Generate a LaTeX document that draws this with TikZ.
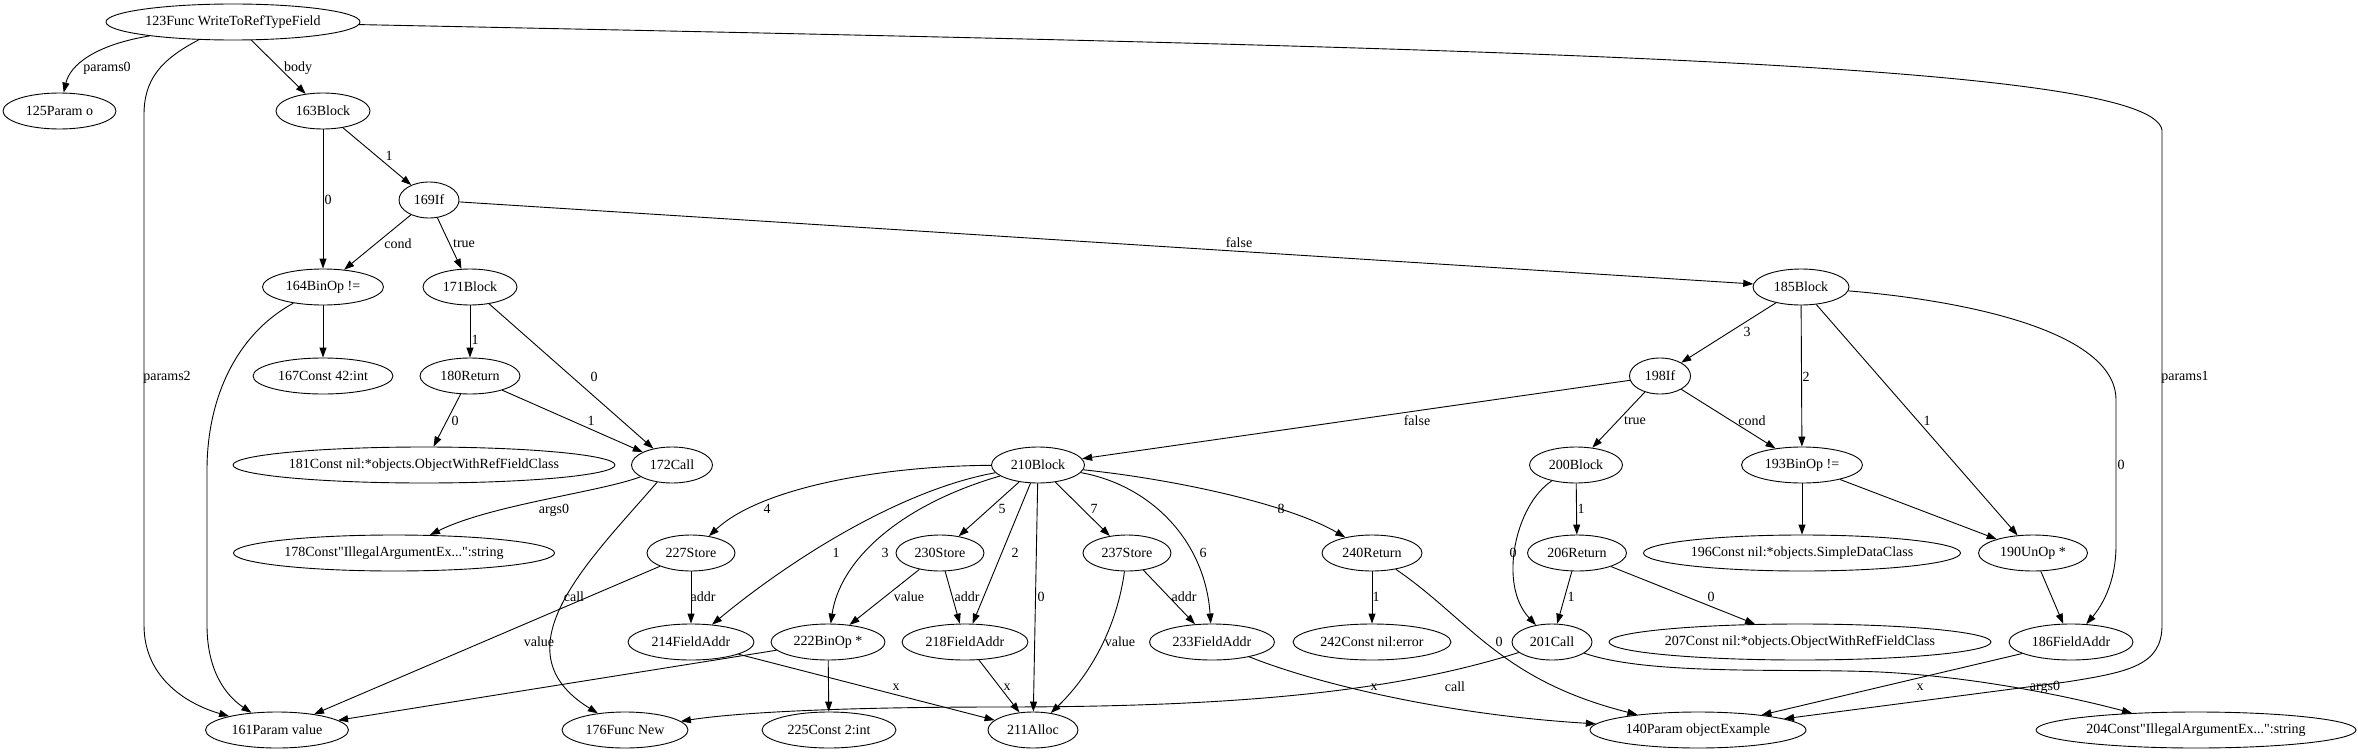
\documentclass[tikz,border=0pt]{standalone}
\usepackage{fontspec}
\setmainfont{Liberation Serif}[Ligatures=TeXOff]
\usetikzlibrary{arrows, arrows.meta}
\usetikzlibrary{shapes.geometric}

\begin{document}
\begin{tikzpicture}[x=1pt, y=-1pt, line width=0.9pt,
    font=\fontsize{14}{16}\selectfont,
    ast/.style={ellipse, draw, inner sep=0pt, minimum height=36pt},
    lbl/.style={inner sep=0pt},
    >={Triangle[length=10pt, width=7pt]}]
    \useasboundingbox (0,0) rectangle (2358,752);

    \node[ast, minimum width=254pt] (123) at (233,22) {123Func WriteToRefTypeField};
    \node[ast, minimum width=113pt] (125) at (59.5,111) {125Param o};
    \node[ast, minimum width=94pt] (163) at (323,111) {163Block};
    \node[ast, minimum width=60pt] (169) at (429,200) {169If};
    \node[ast, minimum width=121pt] (164) at (323,287) {164BinOp !=};
    \node[ast, minimum width=94pt] (171) at (470,287) {171Block};
    \node[ast, minimum width=96pt] (185) at (1801,287) {185Block};
    \node[ast, minimum width=140pt] (167) at (323,376) {167Const 42:int};
    \node[ast, minimum width=100pt] (180) at (470,376) {180Return};
    \node[ast, minimum width=61pt] (198) at (1660,376) {198If};
    \node[ast, minimum width=380pt] (181) at (424,465) {181Const nil:*objects.ObjectWithRefFieldClass};
    \node[ast, minimum width=81pt] (172) at (672,465) {172Call};
    \node[ast, minimum width=93pt] (210) at (1038,465) {210Block};
    \node[ast, minimum width=93pt] (200) at (1576,465) {200Block};
    \node[ast, minimum width=121pt] (193) at (1802,465) {193BinOp !=};
    \node[ast, minimum width=321pt] (178) at (394,553) {178Const"IllegalArgumentEx...":string};
    \node[ast, minimum width=88pt] (227) at (691,553) {227Store};
    \node[ast, minimum width=88pt] (230) at (940,553) {230Store};
    \node[ast, minimum width=88pt] (237) at (1127,553) {237Store};
    \node[ast, minimum width=100pt] (240) at (1372,553) {240Return};
    \node[ast, minimum width=99pt] (206) at (1577,553) {206Return};
    \node[ast, minimum width=317pt] (196) at (1802,553) {196Const nil:*objects.SimpleDataClass};
    \node[ast, minimum width=109pt] (190) at (2033,553) {190UnOp *};
    \node[ast, minimum width=126pt] (214) at (691,642) {214FieldAddr};
    \node[ast, minimum width=114pt] (222) at (828,642) {222BinOp *};
    \node[ast, minimum width=126pt] (218) at (965,642) {218FieldAddr};
    \node[ast, minimum width=125pt] (233) at (1212,642) {233FieldAddr};
    \node[ast, minimum width=158pt] (242) at (1372,642) {242Const nil:error};
    \node[ast, minimum width=80pt] (201) at (1552,642) {201Call};
    \node[ast, minimum width=379pt] (207) at (1800,642) {207Const nil:*objects.ObjectWithRefFieldClass};
    \node[ast, minimum width=124pt] (186) at (2071,642) {186FieldAddr};
    \node[ast, minimum width=143pt] (161) at (277,730) {161Param value};
    \node[ast, minimum width=126pt] (176) at (625,730) {176Func New};
    \node[ast, minimum width=134pt] (225) at (829,730) {225Const 2:int};
    \node[ast, minimum width=90pt] (211) at (1033,730) {211Alloc};
    \node[ast, minimum width=216pt] (140) at (1698,730) {140Param objectExample};
    \node[ast, minimum width=320pt] (204) at (2196,730) {204Const"IllegalArgumentEx...":string};

    \draw[->] (123) .. controls (95,45) and (70,65) .. (125) node[lbl] at (107,68) {params0};
    \draw[->] (123) -- (163) node[lbl] at (298,68) {body};
    \draw[->] (123) .. controls (160,60) and (144,80) .. (144,115) -- (144,625)
        .. controls (144,680) and (190,705) .. (161) node[lbl] at (167,377) {params2};
    \draw[->] (123) .. controls (1500,48) and (2150,62) .. (2162,130) -- (2162,625)
        .. controls (2162,665) and (2130,672) .. (2066,682) -- (140) node[lbl] at (2185,377) {params1};
    \draw[->] (163) -- (164) node[lbl] at (328,200) {0};
    \draw[->] (163) -- (169) node[lbl] at (389,156) {1};
    \draw[->] (169) -- (164) node[lbl] at (398,244) {cond};
    \draw[->] (169) -- (171) node[lbl] at (464,244) {true};
    \draw[->] (169) -- (185) node[lbl] at (1239,243) {false};
    \draw[->] (164) -- (167);
    \draw[->] (164) .. controls (235,335) and (207,400) .. (207,470) -- (207,625)
        .. controls (207,670) and (225,695) .. (161);
    \draw[->] (171) -- (180) node[lbl] at (475,340) {1};
    \draw[->] (171) -- (172) node[lbl] at (594,377) {0};
    \draw[->] (180) -- (181) node[lbl] at (455,421) {0};
    \draw[->] (180) -- (172) node[lbl] at (591,421) {1};
    \draw[->] (172) .. controls (600,492) and (490,505) .. (178) node[lbl] at (554,510) {args0};
    \draw[->] (172) .. controls (590,560) and (495,650) .. (176) node[lbl] at (574,597) {call};

    % second block
    \draw[->] (185) -- (198) node[lbl] at (1747,332) {3};
    \draw[->] (185) -- (193) node[lbl] at (1806,377) {2};
    \draw[->] (185) -- (190) node[lbl] at (1927,421) {1};
    \draw[->] (185) .. controls (1960,300) and (2116,330) .. (2116,400) -- (2116,545)
        .. controls (2116,585) and (2100,608) .. (186) node[lbl] at (2121,465) {0};
    \draw[->] (198) -- (210) node[lbl] at (1417,421) {false};
    \draw[->] (198) -- (200) node[lbl] at (1635,421) {true};
    \draw[->] (198) -- (193) node[lbl] at (1752,421) {cond};
    \draw[->] (200) -- (206) node[lbl] at (1581,509) {1};
    \draw[->] (200) .. controls (1515,505) and (1498,585) .. (201) node[lbl] at (1513,553) {0};
    \draw[->] (206) -- (201) node[lbl] at (1571,597) {1};
    \draw[->] (206) -- (207) node[lbl] at (1711,597) {0};
    \draw[->] (193) -- (196);
    \draw[->] (193) -- (190);
    \draw[->] (190) -- (186);
    \draw[->] (186) -- (140) node[lbl] at (1920,687) {x};
    \draw[->] (201) .. controls (1400,690) and (1250,707) .. (1000,707)
        .. controls (850,707) and (740,712) .. (176) node[lbl] at (1455,687) {call};
    \draw[->] (201) .. controls (1650,676) and (1790,668) .. (1880,672)
        .. controls (1980,677) and (2075,698) .. (204) node[lbl] at (2045,687) {args0};

    % false branch
    \draw[->] (210) .. controls (880,466) and (760,488) .. (227) node[lbl] at (767,509) {4};
    \draw[->] (210) .. controls (900,490) and (790,560) .. (214) node[lbl] at (836,553) {1};
    \draw[->] (210) .. controls (900,505) and (840,560) .. (222) node[lbl] at (885,553) {3};
    \draw[->] (210) -- (230) node[lbl] at (1002,509) {5};
    \draw[->] (210) -- (218) node[lbl] at (1015,553) {2};
    \draw[->] (210) -- (211) node[lbl] at (1041,597) {0};
    \draw[->] (210) -- (237) node[lbl] at (1094,509) {7};
    \draw[->] (210) .. controls (1150,485) and (1205,540) .. (233) node[lbl] at (1203,553) {6};
    \draw[->] (210) .. controls (1180,480) and (1290,505) .. (240) node[lbl] at (1281,509) {8};
    \draw[->] (227) -- (214) node[lbl] at (703,597) {addr};
    \draw[->] (227) -- (161) node[lbl] at (539,642) {value};
    \draw[->] (230) -- (222) node[lbl] at (909,597) {value};
    \draw[->] (230) -- (218) node[lbl] at (967,597) {addr};
    \draw[->] (237) -- (233) node[lbl] at (1184,597) {addr};
    \draw[->] (237) .. controls (1115,640) and (1080,685) .. (211) node[lbl] at (1120,642) {value};
    \draw[->] (214) -- (211) node[lbl] at (896,687) {x};
    \draw[->] (218) -- (211) node[lbl] at (1007,687) {x};
    \draw[->] (222) -- (161);
    \draw[->] (222) -- (225);
    \draw[->] (233) .. controls (1320,685) and (1450,715) .. (140) node[lbl] at (1374,687) {x};
    \draw[->] (240) -- (242) node[lbl] at (1376,597) {1};
    \draw[->] (240) .. controls (1470,620) and (1500,680) .. (140) node[lbl] at (1499,642) {0};
\end{tikzpicture}
\end{document}
